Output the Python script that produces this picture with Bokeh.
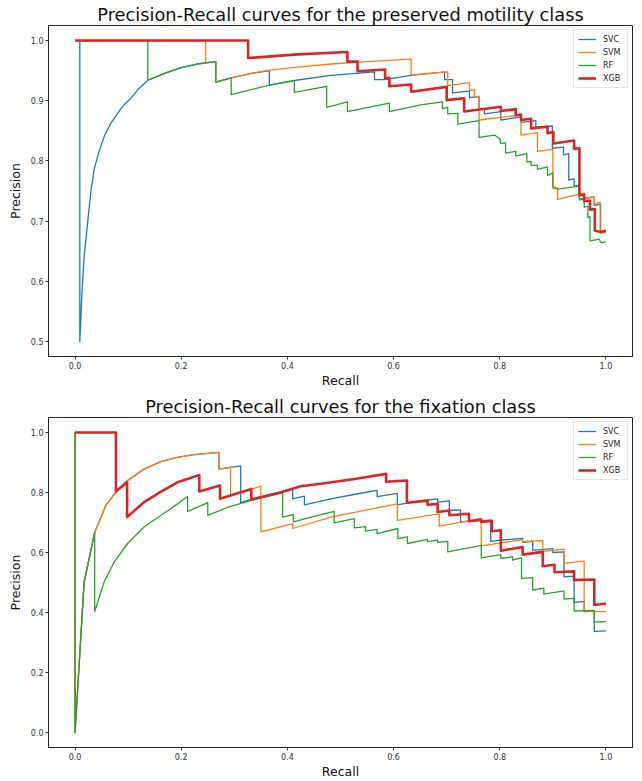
from bokeh.plotting import figure
from bokeh.layouts import column
from bokeh.models import Legend, LegendItem, FixedTicker, PrintfTickFormatter, Range1d
from bokeh.embed import file_html
from bokeh.resources import INLINE

models = ["SVC", "SVM", "RF", "XGB"]
colors = ["#1f77b4", "#ff7f0e", "#2ca02c", "#d62728"]
line_widths = [1.3, 1.3, 1.3, 2.6]

x_ticks = [0.0, 0.2, 0.4, 0.6, 0.8, 1.0]
top_y_ticks = [0.5, 0.6, 0.7, 0.8, 0.9, 1.0]
bottom_y_ticks = [0.0, 0.2, 0.4, 0.6, 0.8, 1.0]

top_title = "Precision-Recall curves for the preserved motility class"
bottom_title = "Precision-Recall curves for the fixation class"

# ---------------- preserved motility class ----------------
top_svc_recall = [0.0, 0.009, 0.009, 0.013, 0.017, 0.024, 0.030, 0.036, 0.045, 0.055, 0.067, 0.080, 0.092,
                  0.105, 0.120, 0.137, 0.170, 0.200, 0.230, 0.246, 0.265, 0.265, 0.294, 0.330, 0.366, 0.366,
                  0.416, 0.482, 0.564, 0.564, 0.582, 0.633, 0.689, 0.696, 0.696, 0.711, 0.711, 0.743, 0.743,
                  0.761, 0.761, 0.771, 0.771, 0.802, 0.802, 0.840, 0.840, 0.868, 0.868, 0.899, 0.899, 0.920,
                  0.920, 0.930, 0.930, 0.940, 0.940, 0.950, 0.950, 0.978, 0.978, 0.990, 0.990, 1.0]
top_svc_precision = [1.0, 1.0, 0.5, 0.58, 0.64, 0.70, 0.75, 0.786, 0.815, 0.841, 0.862, 0.879, 0.893,
                     0.904, 0.920, 0.934, 0.946, 0.955, 0.961, 0.963, 0.965, 0.931, 0.938, 0.945, 0.950, 0.926,
                     0.934, 0.942, 0.948, 0.935, 0.935, 0.942, 0.947, 0.948, 0.935, 0.935, 0.913, 0.916, 0.905,
                     0.907, 0.885, 0.887, 0.878, 0.882, 0.868, 0.873, 0.864, 0.867, 0.855, 0.858, 0.821, 0.823,
                     0.810, 0.812, 0.768, 0.770, 0.758, 0.760, 0.737, 0.740, 0.726, 0.728, 0.683, 0.684]

top_svm_recall = [0.0, 0.246, 0.246, 0.265, 0.265, 0.294, 0.330, 0.366, 0.420, 0.482, 0.550, 0.633, 0.633,
                  0.689, 0.702, 0.702, 0.743, 0.743, 0.752, 0.752, 0.761, 0.761, 0.840, 0.840, 0.871, 0.871,
                  0.900, 0.900, 0.909, 0.909, 0.959, 0.959, 0.978, 0.978, 0.989, 0.989, 1.0]
top_svm_precision = [1.0, 1.0, 0.963, 0.965, 0.931, 0.938, 0.945, 0.951, 0.956, 0.961, 0.965, 0.969, 0.943,
                     0.947, 0.948, 0.925, 0.930, 0.917, 0.918, 0.906, 0.907, 0.868, 0.876, 0.843, 0.847, 0.816,
                     0.819, 0.754, 0.755, 0.736, 0.747, 0.738, 0.740, 0.729, 0.731, 0.680, 0.681]

top_rf_recall = [0.0, 0.137, 0.137, 0.170, 0.200, 0.230, 0.265, 0.265, 0.294, 0.294, 0.330, 0.366, 0.413,
                 0.413, 0.474, 0.474, 0.513, 0.513, 0.592, 0.592, 0.651, 0.692, 0.692, 0.702, 0.702, 0.721,
                 0.721, 0.761, 0.761, 0.790, 0.801, 0.801, 0.811, 0.811, 0.830, 0.830, 0.851, 0.851, 0.859,
                 0.859, 0.871, 0.871, 0.890, 0.890, 0.900, 0.900, 0.909, 0.950, 0.950, 0.959, 0.959, 0.966,
                 0.966, 0.970, 0.970, 0.987, 0.991, 1.0]
top_rf_precision = [1.0, 1.0, 0.934, 0.946, 0.955, 0.961, 0.965, 0.931, 0.938, 0.910, 0.918, 0.926, 0.934,
                    0.914, 0.924, 0.889, 0.898, 0.882, 0.896, 0.882, 0.893, 0.898, 0.887, 0.889, 0.878, 0.879,
                    0.861, 0.867, 0.839, 0.843, 0.836, 0.829, 0.830, 0.813, 0.816, 0.808, 0.812, 0.798, 0.799,
                    0.792, 0.793, 0.786, 0.790, 0.776, 0.780, 0.758, 0.753, 0.758, 0.735, 0.737, 0.723, 0.725,
                    0.706, 0.707, 0.667, 0.670, 0.664, 0.666]

top_xgb_recall = [0.0, 0.326, 0.326, 0.420, 0.513, 0.513, 0.532, 0.532, 0.584, 0.584, 0.592, 0.592, 0.633,
                  0.633, 0.700, 0.700, 0.733, 0.733, 0.802, 0.802, 0.830, 0.830, 0.840, 0.840, 0.859, 0.859,
                  0.890, 0.890, 0.901, 0.901, 0.940, 0.940, 0.950, 0.950, 0.959, 0.959, 0.970, 0.970, 0.979,
                  0.979, 0.991, 1.0]
top_xgb_precision = [1.0, 1.0, 0.971, 0.977, 0.981, 0.965, 0.965, 0.949, 0.952, 0.937, 0.938, 0.924, 0.927,
                     0.915, 0.923, 0.901, 0.904, 0.882, 0.890, 0.883, 0.886, 0.876, 0.877, 0.868, 0.870, 0.854,
                     0.857, 0.846, 0.848, 0.829, 0.834, 0.820, 0.821, 0.743, 0.744, 0.733, 0.734, 0.719, 0.720,
                     0.684, 0.682, 0.684]

# ---------------- fixation class ----------------
bot_svc_recall = [0.0, 0.0, 0.017, 0.037, 0.058, 0.077, 0.099, 0.130, 0.162, 0.190, 0.224, 0.271, 0.271,
                  0.293, 0.312, 0.312, 0.331, 0.370, 0.410, 0.410, 0.432, 0.432, 0.482, 0.530, 0.569, 0.569,
                  0.607, 0.607, 0.650, 0.683, 0.683, 0.705, 0.705, 0.726, 0.726, 0.783, 0.783, 0.802, 0.843,
                  0.843, 0.862, 0.862, 0.900, 0.900, 0.921, 0.921, 0.940, 0.940, 0.959, 0.959, 0.978, 0.978,
                  1.0]
bot_svc_precision = [1.0, 0.0, 0.5, 0.667, 0.757, 0.801, 0.840, 0.878, 0.903, 0.916, 0.926, 0.934, 0.878,
                     0.884, 0.889, 0.766, 0.777, 0.795, 0.810, 0.779, 0.788, 0.759, 0.779, 0.795, 0.807, 0.786,
                     0.797, 0.759, 0.772, 0.779, 0.768, 0.772, 0.740, 0.742, 0.702, 0.708, 0.637, 0.641, 0.647,
                     0.634, 0.637, 0.607, 0.613, 0.600, 0.602, 0.519, 0.521, 0.434, 0.437, 0.403, 0.405, 0.337,
                     0.339]

bot_svm_recall = [0.0, 0.0, 0.017, 0.037, 0.058, 0.077, 0.099, 0.130, 0.162, 0.190, 0.224, 0.271, 0.271,
                  0.293, 0.293, 0.350, 0.350, 0.410, 0.410, 0.482, 0.550, 0.607, 0.607, 0.686, 0.686, 0.765,
                  0.765, 0.843, 0.843, 0.881, 0.881, 0.921, 0.921, 0.959, 0.959, 1.0]
bot_svm_precision = [1.0, 0.0, 0.5, 0.667, 0.757, 0.801, 0.840, 0.878, 0.903, 0.916, 0.926, 0.934, 0.878,
                     0.884, 0.790, 0.821, 0.669, 0.696, 0.680, 0.718, 0.742, 0.762, 0.707, 0.729, 0.688, 0.713,
                     0.622, 0.643, 0.636, 0.640, 0.604, 0.611, 0.564, 0.571, 0.403, 0.403]

bot_rf_recall = [0.0, 0.0, 0.017, 0.037, 0.037, 0.055, 0.074, 0.099, 0.130, 0.162, 0.193, 0.212, 0.212,
                 0.250, 0.250, 0.290, 0.331, 0.391, 0.391, 0.411, 0.411, 0.463, 0.488, 0.488, 0.526, 0.526,
                 0.547, 0.547, 0.569, 0.569, 0.608, 0.608, 0.626, 0.626, 0.664, 0.664, 0.683, 0.683, 0.702,
                 0.702, 0.765, 0.765, 0.802, 0.802, 0.824, 0.824, 0.841, 0.841, 0.862, 0.862, 0.883, 0.883,
                 0.921, 0.921, 0.940, 0.940, 0.978, 0.978, 1.0]
bot_rf_precision = [1.0, 0.0, 0.5, 0.667, 0.403, 0.503, 0.569, 0.630, 0.685, 0.724, 0.762, 0.787, 0.737,
                    0.766, 0.724, 0.752, 0.773, 0.800, 0.718, 0.726, 0.702, 0.726, 0.737, 0.699, 0.713, 0.682,
                    0.686, 0.671, 0.677, 0.663, 0.680, 0.646, 0.652, 0.630, 0.644, 0.636, 0.641, 0.634, 0.637,
                    0.602, 0.624, 0.582, 0.593, 0.580, 0.586, 0.575, 0.582, 0.514, 0.516, 0.475, 0.481, 0.461,
                    0.472, 0.445, 0.447, 0.405, 0.407, 0.368, 0.370]

bot_xgb_recall = [0.0, 0.077, 0.077, 0.098, 0.098, 0.130, 0.162, 0.193, 0.234, 0.234, 0.273, 0.273, 0.332,
                  0.332, 0.380, 0.425, 0.463, 0.530, 0.586, 0.586, 0.625, 0.625, 0.664, 0.664, 0.683, 0.683,
                  0.705, 0.705, 0.742, 0.742, 0.765, 0.765, 0.785, 0.785, 0.802, 0.802, 0.843, 0.843, 0.881,
                  0.881, 0.903, 0.903, 0.940, 0.940, 0.978, 0.978, 1.0]
bot_xgb_precision = [1.0, 1.0, 0.803, 0.834, 0.718, 0.768, 0.803, 0.834, 0.858, 0.803, 0.823, 0.779, 0.812,
                     0.777, 0.797, 0.821, 0.829, 0.846, 0.862, 0.836, 0.840, 0.766, 0.773, 0.759, 0.762, 0.735,
                     0.740, 0.724, 0.729, 0.704, 0.710, 0.702, 0.706, 0.671, 0.674, 0.606, 0.618, 0.593, 0.602,
                     0.554, 0.559, 0.534, 0.537, 0.508, 0.510, 0.425, 0.430]

top_curves = [(top_svc_recall, top_svc_precision), (top_svm_recall, top_svm_precision),
              (top_rf_recall, top_rf_precision), (top_xgb_recall, top_xgb_precision)]
bottom_curves = [(bot_svc_recall, bot_svc_precision), (bot_svm_recall, bot_svm_precision),
                 (bot_rf_recall, bot_rf_precision), (bot_xgb_recall, bot_xgb_precision)]

FONT = "DejaVu Sans"


def make_fig(title, curves, y_start, y_end, y_ticks, height, border_top):
    p = figure(width=640, height=height, output_backend="svg", toolbar_location=None,
               x_range=Range1d(-0.05, 1.05), y_range=Range1d(y_start, y_end),
               min_border_left=48, min_border_right=8, min_border_top=border_top,
               min_border_bottom=33)
    p.title.text = title
    p.title.text_font = FONT
    p.title.text_font_size = "17.8px"
    p.title.text_font_style = "normal"
    p.title.text_color = "#111111"
    p.title.align = "center"
    p.title.standoff = 1
    p.xgrid.visible = False
    p.ygrid.visible = False
    p.outline_line_color = "#222222"
    p.outline_line_alpha = 1.0
    p.outline_line_width = 1
    p.background_fill_color = "white"
    p.border_fill_color = "white"

    p.xaxis.ticker = FixedTicker(ticks=x_ticks)
    p.yaxis.ticker = FixedTicker(ticks=y_ticks)
    p.xaxis.formatter = PrintfTickFormatter(format="%.1f")
    p.yaxis.formatter = PrintfTickFormatter(format="%.1f")
    p.xaxis.axis_label = "Recall"
    p.yaxis.axis_label = "Precision"
    for ax in (p.xaxis, p.yaxis):
        ax.axis_label_text_font = FONT
        ax.axis_label_text_font_size = "12.5px"
        ax.axis_label_text_font_style = "normal"
        ax.axis_label_text_color = "#111111"
        ax.major_label_text_font = FONT
        ax.major_label_text_font_size = "8px"
        ax.major_label_text_color = "#333333"
        ax.major_label_standoff = 2
        ax.major_tick_in = 0
        ax.major_tick_out = 3
        ax.major_tick_line_color = "#333333"
        ax.minor_tick_line_color = None
        ax.axis_line_color = "#222222"
    p.xaxis.axis_label_standoff = 1
    p.yaxis.axis_label_standoff = 5

    items = []
    for name, color, lw, (rx, py) in zip(models, colors, line_widths, curves):
        r = p.line(rx, py, line_color=color, line_width=lw, line_join="round")
        items.append(LegendItem(label=name, renderers=[r]))

    legend = Legend(items=items, location="top_right")
    legend.label_text_font = FONT
    legend.label_text_font_size = "8px"
    legend.label_text_color = "#222222"
    legend.glyph_width = 18
    legend.glyph_height = 10
    legend.label_height = 10
    legend.label_standoff = 7
    legend.spacing = 3
    legend.padding = 4
    legend.margin = 4
    legend.border_line_color = "#cccccc"
    legend.border_line_width = 1
    legend.background_fill_alpha = 0.8
    p.add_layout(legend)
    return p


p1 = make_fig(top_title, top_curves, 0.475, 1.025, top_y_ticks, 390, 25)
p2 = make_fig(bottom_title, bottom_curves, -0.05, 1.05, bottom_y_ticks, 391, 27)

layout = column(p1, p2, spacing=0)

with open("out.html", "w") as f:
    f.write(file_html(layout, INLINE))
